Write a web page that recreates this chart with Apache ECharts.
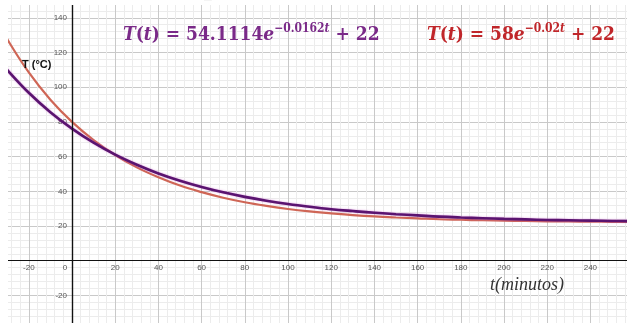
<!DOCTYPE html>
<html><head><meta charset="utf-8">
<script src="https://cdn.jsdelivr.net/npm/echarts@6/dist/echarts.min.js"></script>
<style>html,body{margin:0;padding:0;background:#fff}#c{width:627px;height:323px}</style>
</head><body><div id="c"></div>
<script>
const tValues = [-35,-30,-20,-10,0,10,20,30,40,50,60,70,80,90,100,110,120,130,140,150,160,170,180,190,200,210,220,230,240,250,260];
const purpleT = [117.4,110.0,96.8,85.6,76.1,68.0,61.1,55.3,50.3,46.1,42.5,39.4,36.8,34.6,32.7,31.1,29.7,28.6,27.6,26.8,26.1,25.4,24.9,24.5,24.1,23.8,23.5,23.3,23.1,22.9,22.8];
const redT = [138.8,127.7,108.5,92.8,80.0,69.5,60.9,53.8,48.1,43.3,39.5,36.3,33.7,31.6,29.8,28.4,27.3,26.3,25.5,24.9,24.4,23.9,23.6,23.3,23.1,22.9,22.7,22.6,22.5,22.4,22.3];
const xTickLabels = ['-20','0','20','40','60','80','100','120','140','160','180','200','220','240'];
const yTickLabels = ['-20','20','40','60','80','100','120','140'];

const chart = echarts.init(document.getElementById('c'), null, {renderer:'canvas'});
const pair = (vals) => tValues.map((t,i)=>[t, vals[i]]);

const FF = '"DejaVu Serif Condensed", "DejaVu Serif", serif';
const main = {fontFamily:FF, fontWeight:'bold', fontSize:19};
function formulaRich(color){
  return {
    i:{...main, fontStyle:'italic', fill:color},
    p:{...main, fill:color},
    s:{fontFamily:FF, fontWeight:'bold', fontSize:12, fill:color, padding:[0,0,13,0]},
    si:{fontFamily:FF, fontWeight:'bold', fontStyle:'italic', fontSize:12, fill:color, padding:[0,0,13,0]}
  };
}

chart.setOption({
  animation:false,
  backgroundColor:'#fff',
  grid:{left:-14.4, right:-6.6, top:-16.9, bottom:-7.1, containLabel:false, outerBoundsMode:'none'},
  xAxis:{
    type:'value', min:-40, max:260, interval:20, position:'bottom', offset:-69.4,
    axisLine:{onZero:false, lineStyle:{color:'#111', width:1.2}},
    axisTick:{show:false},
    axisLabel:{fontSize:8, color:'#555', fontFamily:'Liberation Sans', margin:3,
      formatter:(v)=> xTickLabels.includes(String(v)) ? (v===0 ? '{z|0}' : String(v)) : '',
      rich:{z:{fontSize:8, color:'#555', padding:[0,14,0,0]}}},
    splitLine:{show:true, lineStyle:{color:'#c9c9c9', width:1}},
    minorTick:{show:false, splitNumber:5},
    minorSplitLine:{show:true, lineStyle:{color:'#ececec', width:1}}
  },
  yAxis:{
    type:'value', min:-40, max:160, interval:20, position:'left', offset:-86.4,
    axisLine:{onZero:false, lineStyle:{color:'#111', width:1.2}},
    axisTick:{show:false},
    axisLabel:{fontSize:8, color:'#555', fontFamily:'Liberation Sans', margin:5,
      formatter:(v)=> yTickLabels.includes(String(v)) ? String(v) : ''},
    splitLine:{show:true, lineStyle:{color:'#c9c9c9', width:1}},
    minorTick:{show:false, splitNumber:5},
    minorSplitLine:{show:true, lineStyle:{color:'#ececec', width:1}}
  },
  series:[
    {type:'line', name:'58e^-0.02t+22', data:pair(redT), smooth:0.4, symbol:'none', z:3,
      lineStyle:{color:'#cf6656', width:2.2},
      markLine:{silent:true, symbol:'none', label:{show:false}, animation:false,
        lineStyle:{color:'#111', width:1.2, type:'solid'},
        data:[{xAxis:0},{yAxis:0}]}},
    {type:'line', name:'54.1114e^-0.0162t+22', data:pair(purpleT), smooth:0.4, symbol:'none', z:4,
      lineStyle:{color:'#5a1470', width:2.6, shadowColor:'rgba(200,90,200,0.6)', shadowBlur:2}}
  ],
  graphic:[
    {type:'rect', z:100, left:0, top:0, shape:{x:0, y:0, width:8, height:323}, style:{fill:'#ffffff'}},
    {type:'rect', z:100, left:0, top:0, shape:{x:0, y:0, width:627, height:5}, style:{fill:'#ffffff'}},
    {type:'text', z:101, left:123, top:23, style:{
      text:'{i|T}{p|(}{i|t}{p|) = 54.1114}{i|e}{s|−0.0162}{si|t}{p| + 22}',
      fill:'#7a2a88', rich:formulaRich('#7a2a88')}},
    {type:'text', z:101, left:427, top:23, style:{
      text:'{i|T}{p|(}{i|t}{p|) = 58}{i|e}{s|−0.02}{si|t}{p| + 22}',
      fill:'#c0262a', rich:formulaRich('#c0262a')}},
    {type:'text', z:101, left:22, top:59, style:{text:'T (°C)', font:'bold 11px "Liberation Sans"', fill:'#111'}},
    {type:'text', z:101, left:490, top:276, style:{text:'t(minutos)', font:'italic 18px "Liberation Serif"', fill:'#333'}},
    {type:'text', z:101, left:204, top:0, style:{text:'▔', font:'bold 10px "DejaVu Sans"', fill:'#111'}}
  ]
});
</script></body></html>
